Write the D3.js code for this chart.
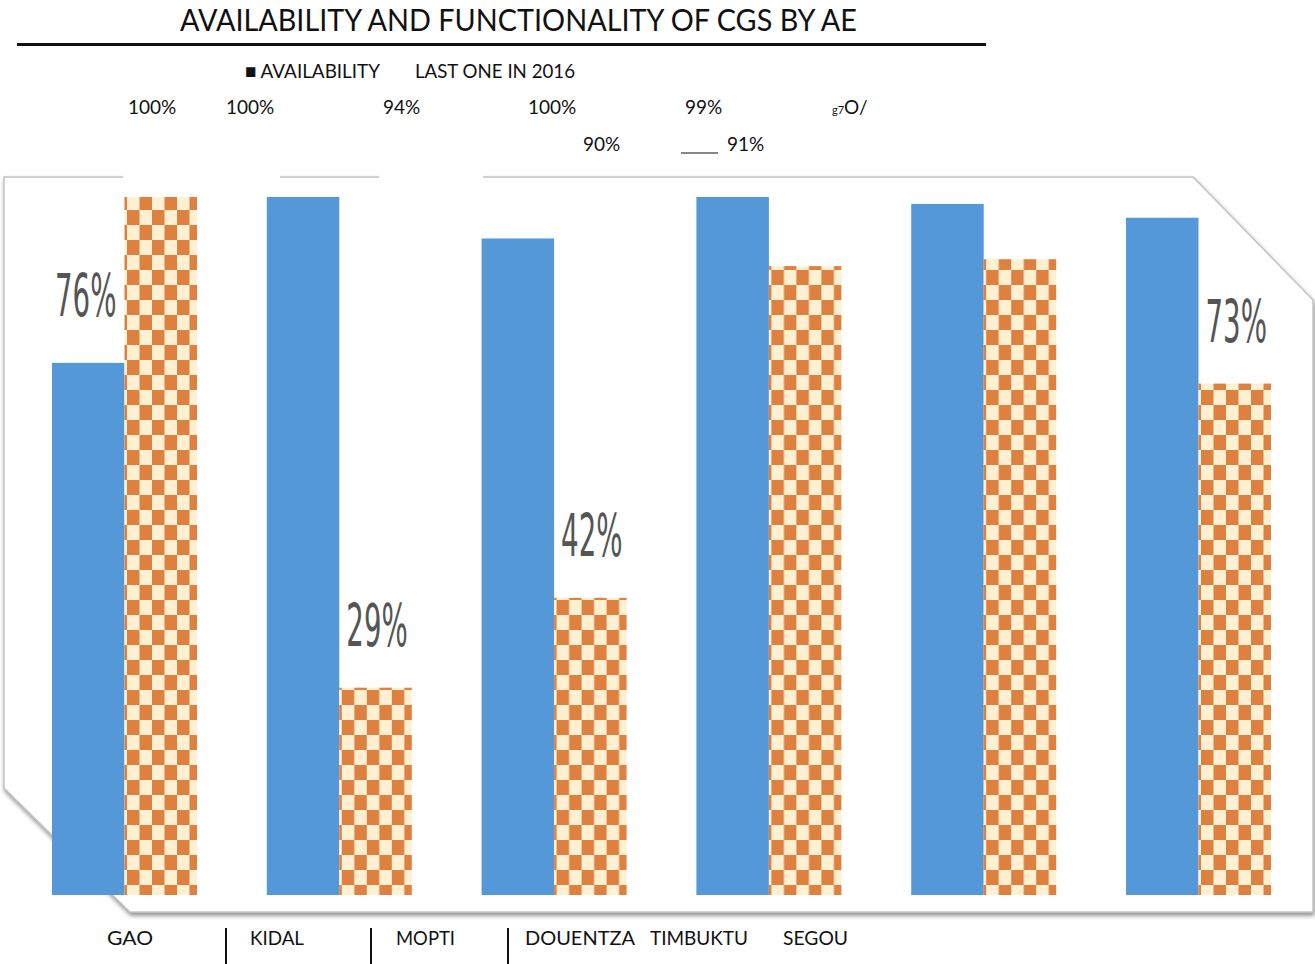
<!DOCTYPE html>
<html>
<head>
<meta charset="utf-8">
<script src="https://cdn.jsdelivr.net/npm/d3@7"></script>
<style>
  body { margin: 0; background: #fff; }
  svg { display: block; }
  .hdr { font-family: "Lato", "Open Sans", sans-serif; fill: #111; }
  .catLabel { font-family: "Lato", "Open Sans", sans-serif; fill: #111; }
  .valLabel { font-family: "Liberation Sans Narrow", "DejaVu Sans Condensed", sans-serif; fill: #555; }
</style>
</head>
<body>
<script>
// bar chart of CGS availability by AE
(function(){
  // *************************************************** //
  // data
  var categories = ["GAO", "KIDAL", "MOPTI", "DOUENTZA", "TIMBUKTU", "SEGOU"];
  var availability = [76, 100, 94, 100, 99, 97];
  var lastIn2016 = [100, 29, 42, 90, 91, 73];
  var seriesNames = ["AVAILABILITY", "LAST ONE IN 2016"];
  // value labels drawn inside the chart (where shown)
  var insideLabels = ["76%", "29%", "42%", "", "", "73%"];
  // header rows of percentage text above the chart
  var headerRow1 = ["100%", "100%", "94%", "100%", "99%"];
  var headerRow2 = ["90%", "91%"];

  // layout of header text (x of left edge)
  var row1X = [128, 226, 383, 528, 685];
  var row2X = [583, 727];

  var width = 1315,
      height = 964;

  var svg = d3.select("body")
    .append("svg")
    .attr("width", width)
    .attr("height", height);

  var defs = svg.append("defs");

  // checker pattern for second series
  var pat = defs.append("pattern")
    .attr("id", "checker")
    .attr("patternUnits", "userSpaceOnUse")
    .attr("width", 25)
    .attr("height", 30);
  pat.append("rect").attr("width", 25).attr("height", 30).attr("fill", "#fff0d2");
  pat.append("rect").attr("x", 0).attr("y", 0).attr("width", 12.5).attr("height", 15).attr("fill", "#dd8040");
  pat.append("rect").attr("x", 12.5).attr("y", 15).attr("width", 12.5).attr("height", 15).attr("fill", "#dd8040");

  // shadow for the panel
  var shadow = defs.append("filter")
    .attr("id", "shadow")
    .attr("x", "-5%").attr("y", "-5%")
    .attr("width", "110%").attr("height", "110%");
  shadow.append("feDropShadow")
    .attr("dx", 1).attr("dy", 3)
    .attr("stdDeviation", 2)
    .attr("flood-color", "#777")
    .attr("flood-opacity", 0.8);

  var softBar = defs.append("filter").attr("id", "softBar");
  softBar.append("feGaussianBlur").attr("stdDeviation", 0.7);

  // *************************************************** //
  // title and legend
  svg.append("text")
    .attr("class", "hdr")
    .attr("x", 180)
    .attr("y", 31)
    .attr("font-size", 31)
    .attr("textLength", 677)
    .attr("lengthAdjust", "spacingAndGlyphs")
    .text("AVAILABILITY AND FUNCTIONALITY OF CGS BY AE");

  svg.append("rect")
    .attr("x", 17).attr("y", 43)
    .attr("width", 969).attr("height", 3)
    .attr("fill", "#111");

  svg.append("text")
    .attr("class", "hdr")
    .attr("x", 245).attr("y", 78)
    .attr("font-size", 20)
    .attr("textLength", 135)
    .attr("lengthAdjust", "spacingAndGlyphs")
    .text("\u25A0 " + seriesNames[0]);

  svg.append("text")
    .attr("class", "hdr")
    .attr("x", 415).attr("y", 78)
    .attr("font-size", 20)
    .attr("textLength", 160)
    .attr("lengthAdjust", "spacingAndGlyphs")
    .text(seriesNames[1]);

  // *************************************************** //
  // panel
  var panel = [[4, 177], [1193, 177], [1313, 300], [1313, 912], [130, 912], [4, 788]];
  svg.append("path")
    .attr("d", d3.line()(panel) + "Z")
    .attr("fill", "#fff")
    .attr("stroke", "#c4c4c4")
    .attr("stroke-width", 1.5)
    .attr("filter", "url(#shadow)");

  // *************************************************** //
  // scales
  var x0 = d3.scaleBand()
    .domain(categories)
    .range([52, 1271])
    .paddingInner(0.325)
    .paddingOuter(0);

  var x1 = d3.scaleBand()
    .domain([0, 1])
    .range([0, x0.bandwidth()]);

  // axis floor sits a little below zero, as in the original plot
  var y = d3.scaleLinear()
    .domain([-1, 100])
    .range([895, 197]);
  var floorY = y.range()[0];

  var rows = categories.map(function(c, i){
    return { cat: c, values: [availability[i], lastIn2016[i]], label: insideLabels[i] };
  });

  var groups = svg.selectAll(".grp")
    .data(rows)
    .enter()
    .append("g")
    .attr("class", "grp")
    .attr("transform", function(d){ return "translate(" + x0(d.cat) + ",0)"; });

  groups.selectAll("rect")
    .data(function(d){ return d.values.map(function(v, k){ return { k: k, v: v }; }); })
    .enter()
    .append("rect")
    .attr("x", function(d){ return x1(d.k); })
    .attr("y", function(d){ return y(d.v); })
    .attr("width", x1.bandwidth())
    .attr("height", function(d){ return floorY - y(d.v); })
    .attr("fill", function(d){ return d.k === 0 ? "#5598d8" : "url(#checker)"; })
    .attr("filter", function(d){ return d.k === 0 ? null : "url(#softBar)"; });

  // value labels above the second bar (gao sits beside its first bar)
  // squeezed horizontally to look like the narrow original lettering
  groups.filter(function(d){ return d.label !== ""; })
    .append("text")
    .attr("class", "valLabel")
    .attr("font-size", 58)
    .attr("transform", function(d){
      var tx = d.cat === "GAO" ? 3 : x1(1) + 7;
      var ty = d.cat === "GAO" ? y(d.values[0]) - 47 : y(d.values[1]) - 42;
      return "translate(" + tx + "," + ty + ") scale(0.53,1)";
    })
    .text(function(d){ return d.label; });

  // *************************************************** //
  // white patches over the top of the panel
  var patches = [[123, 150, 157, 32], [379, 150, 104, 32], [579, 125, 296, 47]];
  svg.selectAll(".patch")
    .data(patches)
    .enter()
    .append("rect")
    .attr("class", "patch")
    .attr("x", function(d){ return d[0]; })
    .attr("y", function(d){ return d[1]; })
    .attr("width", function(d){ return d[2]; })
    .attr("height", function(d){ return d[3]; })
    .attr("fill", "#fff");

  // header percentages
  svg.selectAll(".row1")
    .data(headerRow1)
    .enter()
    .append("text")
    .attr("class", "hdr row1")
    .attr("x", function(d, i){ return row1X[i]; })
    .attr("y", 114)
    .attr("font-size", 19)
    .text(function(d){ return d; });

  var odd = svg.append("text")
    .attr("class", "hdr")
    .attr("x", 832)
    .attr("y", 114)
    .attr("font-size", 19);
  odd.append("tspan").attr("font-size", 11).text("g7");
  odd.append("tspan").text("O/");

  svg.selectAll(".row2")
    .data(headerRow2)
    .enter()
    .append("text")
    .attr("class", "hdr row2")
    .attr("x", function(d, i){ return row2X[i]; })
    .attr("y", 151)
    .attr("font-size", 19)
    .text(function(d){ return d; });

  svg.append("line")
    .attr("x1", 681).attr("x2", 718)
    .attr("y1", 153).attr("y2", 153)
    .attr("stroke", "#111")
    .attr("stroke-width", 1.2);

  // *************************************************** //
  // category labels beneath the chart
  var catX = [107, 250, 396, 525, 650, 783];
  var catW = [46, 54, 59, 110, 98, 65];
  svg.selectAll(".catLabel")
    .data(categories)
    .enter()
    .append("text")
    .attr("class", "catLabel")
    .attr("x", function(d, i){ return catX[i]; })
    .attr("y", 945)
    .attr("font-size", 20)
    .attr("textLength", function(d, i){ return catW[i]; })
    .attr("lengthAdjust", "spacingAndGlyphs")
    .text(function(d){ return d; });

  svg.selectAll(".sep")
    .data([226, 371, 508])
    .enter()
    .append("line")
    .attr("class", "sep")
    .attr("x1", function(d){ return d; })
    .attr("x2", function(d){ return d; })
    .attr("y1", 928)
    .attr("y2", 964)
    .attr("stroke", "#111")
    .attr("stroke-width", 2);

})();
</script>
</body>
</html>
